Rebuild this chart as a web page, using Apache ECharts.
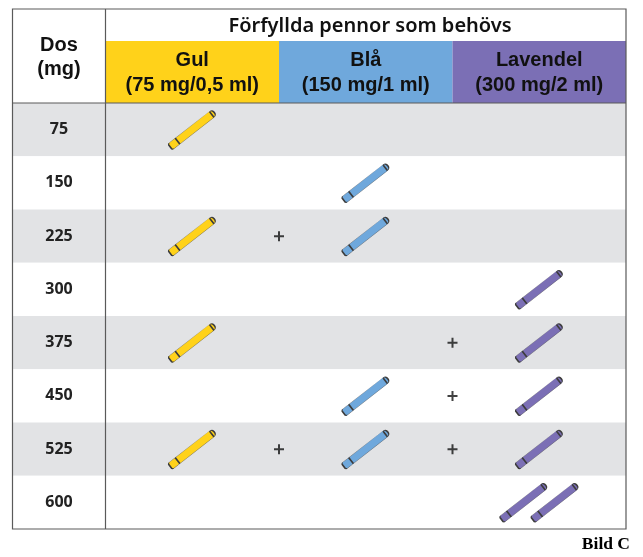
<!DOCTYPE html>
<html>
<head>
<meta charset="utf-8">
<script src="https://cdn.jsdelivr.net/npm/echarts@6/dist/echarts.min.js"></script>
<style>
  html, body { margin: 0; padding: 0; background: #fff; }
  #main { width: 643px; height: 557px; }
</style>
</head>
<body>
<div id="main"></div>
<script>
// doser och antal pennor per färg
var doses = ['75', '150', '225', '300', '375', '450', '525', '600'];
var gulPens = [1, 0, 1, 0, 1, 0, 1, 0];
var blaPens = [0, 1, 1, 0, 0, 1, 1, 0];
var lavPens = [0, 0, 0, 1, 1, 1, 1, 2];
var penNames = ['Gul', 'Blå', 'Lavendel'];
var penStrengths = ['(75 mg/0,5 ml)', '(150 mg/1 ml)', '(300 mg/2 ml)'];
var penColors = ['#ffd21a', '#6fa8dc', '#7b6fb5'];
var title = 'Förfyllda pennor som behövs';

var chart = echarts.init(document.getElementById('main'));

// tabellens mått
var tL = 12.5, tR = 626, tT = 9, tB = 529;
var colX = 105.5, headTop = 41, bodyTop = 103;
var colW = (tR - colX) / 3;

var penPath = 'path://M0,1.2 L1.2,0 L10,0 L10,8 L1.2,8 L0,6.8 Z M10,0 L56,0 Q60,0 60,4 Q60,8 56,8 L10,8 Z M56.5,0.3 L56.5,7.7';
var plusPath = 'path://M4,0 L6,0 L6,4 L10,4 L10,6 L6,6 L6,10 L4,10 L4,6 L0,6 L0,4 L4,4 Z';

function penData(counts, col) {
  var out = [];
  counts.forEach(function (n, i) {
    for (var k = 0; k < n; k++) {
      out.push([col + 0.5 + (k - (n - 1) / 2) * 0.18, doses[i]]);
    }
  });
  return out;
}

var plusData = [];
doses.forEach(function (d, i) {
  if (gulPens[i] && blaPens[i]) plusData.push([1, d]);
  if (lavPens[i] && (gulPens[i] || blaPens[i])) plusData.push([2, d]);
});

var rowBg = ['#e2e3e5', '#ffffff'];

var graphic = [];
// färgade rubrikceller
penNames.forEach(function (name, c) {
  graphic.push({
    type: 'rect', silent: true,
    shape: { x: colX + c * colW, y: headTop, width: colW, height: bodyTop - headTop },
    style: { fill: penColors[c] }
  });
  graphic.push({
    type: 'text', silent: true,
    x: colX + (c + 0.5) * colW, y: 60,
    style: { text: name, fill: '#111', font: 'bold 20px "Liberation Sans", Arial', align: 'center', verticalAlign: 'middle' }
  });
  graphic.push({
    type: 'text', silent: true,
    x: colX + (c + 0.5) * colW, y: 85,
    style: { text: penStrengths[c], fill: '#111', font: 'bold 20px "Liberation Sans", Arial', align: 'center', verticalAlign: 'middle' }
  });
});
graphic.push(
  { type: 'text', silent: true, x: 370, y: 26,
    style: { text: title, fill: '#111', font: '600 20px "Noto Sans", "Open Sans"', align: 'center', verticalAlign: 'middle' } },
  { type: 'text', silent: true, x: (tL + colX) / 2, y: 45,
    style: { text: 'Dos', fill: '#111', font: 'bold 20px "Liberation Sans", Arial', align: 'center', verticalAlign: 'middle' } },
  { type: 'text', silent: true, x: (tL + colX) / 2, y: 69,
    style: { text: '(mg)', fill: '#111', font: 'bold 20px "Liberation Sans", Arial', align: 'center', verticalAlign: 'middle' } },
  // ramar
  { type: 'rect', silent: true, z: 10,
    shape: { x: tL, y: tT, width: tR - tL, height: tB - tT },
    style: { fill: null, stroke: '#5a5a5a', lineWidth: 1.2 } },
  { type: 'line', silent: true, z: 10,
    shape: { x1: colX, y1: tT, x2: colX, y2: tB },
    style: { stroke: '#5a5a5a', lineWidth: 1.2 } },
  { type: 'line', silent: true, z: 10,
    shape: { x1: tL, y1: bodyTop, x2: tR, y2: bodyTop },
    style: { stroke: '#5a5a5a', lineWidth: 1.2 } },
  { type: 'text', silent: true, x: 630, y: 544,
    style: { text: 'Bild C', fill: '#000', font: 'bold 17.5px "Liberation Serif", "Times New Roman"', align: 'right', verticalAlign: 'middle' } }
);

function penSeries(idx, counts) {
  return {
    name: penNames[idx],
    type: 'scatter',
    xAxisIndex: 1, yAxisIndex: 1,
    symbol: penPath,
    symbolSize: [56, 7.5],
    symbolRotate: 38,
    itemStyle: { color: penColors[idx], borderColor: '#3c3c3c', borderWidth: 0.6, opacity: 1 },
    emphasis: { disabled: true },
    data: penData(counts, idx),
    z: 5
  };
}

var option = {
  backgroundColor: '#fff',
  animation: false,
  grid: [
    { left: tL, top: bodyTop, width: colX - tL, height: tB - bodyTop },
    { left: colX, top: bodyTop, width: tR - colX, height: tB - bodyTop }
  ],
  xAxis: [
    { gridIndex: 0, type: 'value', min: 0, max: 1, show: false },
    { gridIndex: 1, type: 'value', min: 0, max: 3, show: false }
  ],
  yAxis: [
    {
      gridIndex: 0, type: 'category', inverse: true, data: doses,
      axisLine: { show: false }, axisTick: { show: false }, axisLabel: { show: false },
      splitLine: { show: false },
      splitArea: { show: true, areaStyle: { color: rowBg } }
    },
    {
      gridIndex: 1, type: 'category', inverse: true, data: doses,
      axisLine: { show: false }, axisTick: { show: false },
      axisLabel: {
        margin: (colX - tL) / 2, align: 'center',
        color: '#222', fontFamily: '"Open Sans", "Noto Sans"', fontWeight: 'bold', fontSize: 16
      },
      splitLine: { show: false },
      splitArea: { show: true, areaStyle: { color: rowBg } }
    }
  ],
  graphic: graphic,
  series: [
    penSeries(0, gulPens),
    penSeries(1, blaPens),
    penSeries(2, lavPens),
    {
      name: 'plus',
      type: 'scatter',
      xAxisIndex: 1, yAxisIndex: 1,
      symbol: plusPath,
      symbolSize: 10,
      itemStyle: { color: '#111' },
      emphasis: { disabled: true },
      data: plusData
    }
  ]
};

chart.setOption(option);
</script>
</body>
</html>
